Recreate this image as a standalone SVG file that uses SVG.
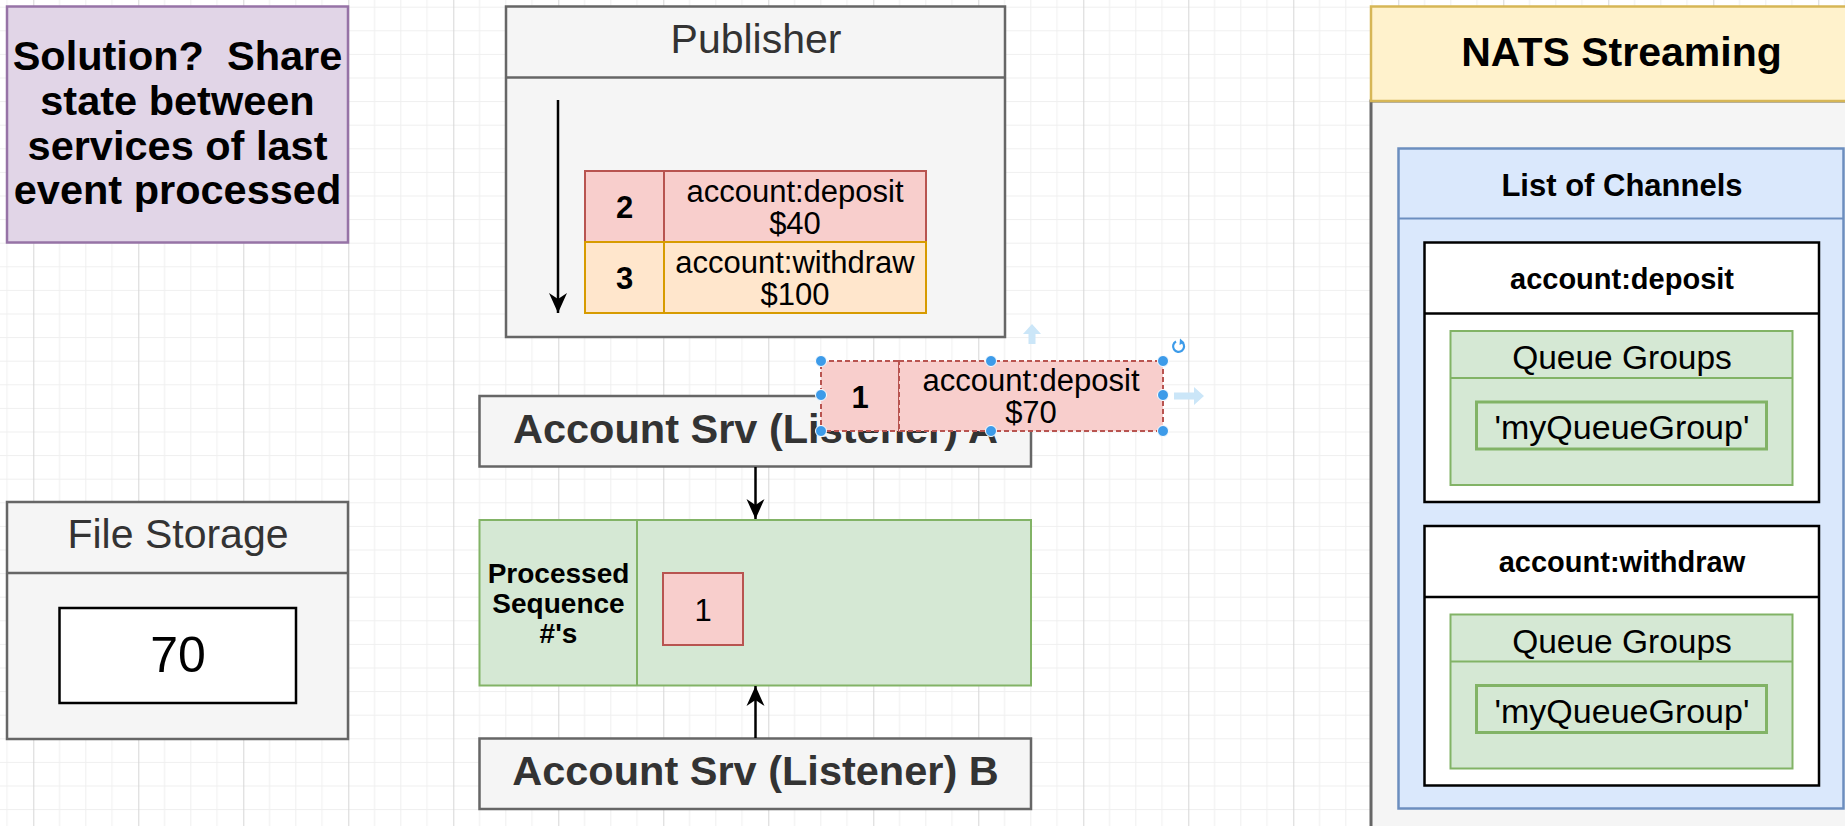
<svg xmlns="http://www.w3.org/2000/svg" width="1845" height="826" viewBox="0 0 1845 826">
<style>
text{font-family:"Liberation Sans",Arial,Helvetica,sans-serif;text-anchor:middle}
.b{font-weight:bold}
.gray{fill:#f5f5f5;stroke:#666666;stroke-width:2.5}
.red{fill:#f8cecc;stroke:#b85450;stroke-width:2}
.orange{fill:#ffe6cc;stroke:#d79b00;stroke-width:2}
.green{fill:#d5e8d4;stroke:#82b366;stroke-width:2}
.conn{stroke:#000;stroke-width:2.5;fill:none}
.handle{fill:#3d9be9;stroke:#ffffff;stroke-width:1}
.hint{fill:#cbe6f8}
</style>
<defs>
<pattern id="grid" patternUnits="userSpaceOnUse" x="33.3" y="6.7" width="105" height="23.6">
<path d="M26.25 0V23.6M52.5 0V23.6M78.75 0V23.6M0 0.5H105" stroke="#efefef" stroke-width="1" fill="none"/>
<path d="M0.5 0V23.6" stroke="#d6d6d6" stroke-width="1" fill="none"/>
</pattern>
<marker id="arrow" markerUnits="userSpaceOnUse" markerWidth="22" markerHeight="22" viewBox="-20 -10 22 20" refX="0" refY="0" orient="auto">
<path d="M-20,-9 L0,0 L-20,9 L-14,0 Z" fill="#000"/>
</marker>
</defs>
<rect width="1845" height="826" fill="#ffffff"/>
<rect width="1845" height="826" fill="url(#grid)"/>

<g id="solution">
<rect x="7" y="6.5" width="341" height="236" fill="#e1d5e7" stroke="#9673a6" stroke-width="2.5"/>
<text class="b" x="177.5" y="70" font-size="41.5">Solution?&#160; Share</text>
<text class="b" x="177.5" y="115" font-size="41.5">state between</text>
<text class="b" x="177.5" y="159.5" font-size="41.5">services of last</text>
<text class="b" x="177.5" y="203.5" font-size="41.5">event processed</text>
</g>

<g id="file-storage">
<rect class="gray" x="7" y="502" width="341" height="237"/>
<line x1="7" y1="573" x2="348" y2="573" stroke="#666666" stroke-width="2.5"/>
<text x="178" y="548" font-size="41" fill="#333333">File Storage</text>
<rect x="59.5" y="608" width="236.5" height="95" fill="#ffffff" stroke="#000000" stroke-width="2.5"/>
<text x="178" y="672" font-size="50">70</text>
</g>

<g id="publisher">
<rect class="gray" x="506" y="6.5" width="499" height="330.5"/>
<line x1="506" y1="77.5" x2="1005" y2="77.5" stroke="#666666" stroke-width="2.5"/>
<text x="756" y="53" font-size="41" fill="#333333">Publisher</text>
</g>

<g id="event-2">
<rect class="red" x="585" y="171" width="79" height="71"/>
<rect class="red" x="664" y="171" width="262" height="71"/>
<text class="b" x="624.5" y="218" font-size="31">2</text>
<text x="795" y="202" font-size="31">account:deposit</text>
<text x="795" y="234" font-size="31">$40</text>
</g>

<g id="event-3">
<rect class="orange" x="585" y="242" width="79" height="71"/>
<rect class="orange" x="664" y="242" width="262" height="71"/>
<text class="b" x="624.5" y="289" font-size="31">3</text>
<text x="795" y="273" font-size="31">account:withdraw</text>
<text x="795" y="305" font-size="31">$100</text>
</g>

<g id="listener-a">
<rect class="gray" x="479.5" y="396" width="551.5" height="70.5"/>
<text class="b" x="755.5" y="443" font-size="41.5" fill="#333333">Account Srv (Listener) A</text>
</g>

<g id="processed">
<rect class="green" x="479.5" y="520" width="551.5" height="165.5"/>
<line x1="637" y1="520" x2="637" y2="685.5" stroke="#82b366" stroke-width="2"/>
<text class="b" x="558.5" y="583" font-size="28">Processed</text>
<text class="b" x="558.5" y="613" font-size="28">Sequence</text>
<text class="b" x="558.5" y="643" font-size="28">#'s</text>
<rect class="red" x="663" y="573" width="80" height="72"/>
<text x="703" y="621" font-size="31">1</text>
</g>

<g id="listener-b">
<rect class="gray" x="479.5" y="738.5" width="551.5" height="70.5"/>
<text class="b" x="755.5" y="785" font-size="41.5" fill="#333333">Account Srv (Listener) B</text>
</g>

<g id="connectors">
<line class="conn" x1="558" y1="100" x2="558" y2="313" marker-end="url(#arrow)"/>
<line class="conn" x1="755.5" y1="467" x2="755.5" y2="519" marker-end="url(#arrow)"/>
<line class="conn" x1="755.5" y1="738" x2="755.5" y2="686" marker-end="url(#arrow)"/>
</g>

<g id="event-1">
<rect x="821" y="361" width="78" height="70" fill="#f8cecc" stroke="#b85450" stroke-width="2" stroke-dasharray="5 3"/>
<rect x="899" y="361" width="264" height="70" fill="#f8cecc" stroke="#b85450" stroke-width="2" stroke-dasharray="5 3"/>
<text class="b" x="860" y="408" font-size="31">1</text>
<text x="1031" y="391" font-size="31">account:deposit</text>
<text x="1031" y="423" font-size="31">$70</text>
<path class="hint" d="M1032 324 L1041 334 L1035.5 334 L1035.5 344 L1028.5 344 L1028.5 334 L1023 334 Z"/>
<path class="hint" d="M1204 396 L1194 405 L1194 399.5 L1174 399.5 L1174 392.5 L1194 392.5 L1194 387 Z"/>
<path d="M1182.5 342.5 A5.5 5.5 0 1 1 1176 341.5" fill="none" stroke="#3d9be9" stroke-width="2.2"/>
<path d="M1180 338.5 L1184.5 342.5 L1179.5 345 Z" fill="#3d9be9"/>
<circle class="handle" cx="821" cy="361" r="5.5"/>
<circle class="handle" cx="991" cy="361" r="5.5"/>
<circle class="handle" cx="1163" cy="361" r="5.5"/>
<circle class="handle" cx="821" cy="395" r="5.5"/>
<circle class="handle" cx="1163" cy="395" r="5.5"/>
<circle class="handle" cx="821" cy="431" r="5.5"/>
<circle class="handle" cx="991" cy="431" r="5.5"/>
<circle class="handle" cx="1163" cy="431" r="5.5"/>
</g>

<g id="nats">
<rect x="1371" y="101" width="490" height="740" fill="#f5f5f5" stroke="#666666" stroke-width="3"/>
<rect x="1371" y="6.5" width="490" height="94.5" fill="#fff2cc" stroke="#d6b656" stroke-width="2.5"/>
<text class="b" x="1621.5" y="66" font-size="41">NATS Streaming</text>
</g>

<g id="channels">
<rect x="1398.5" y="148.5" width="445" height="660" fill="#dae8fc" stroke="#6c8ebf" stroke-width="2.5"/>
<line x1="1398.5" y1="218.5" x2="1843.5" y2="218.5" stroke="#6c8ebf" stroke-width="2"/>
<text class="b" x="1622" y="196" font-size="31">List of Channels</text>
</g>

<g id="channel-deposit">
<rect x="1424.5" y="242.5" width="394.5" height="259.5" fill="#ffffff" stroke="#000000" stroke-width="2.5"/>
<line x1="1424.5" y1="313.5" x2="1819" y2="313.5" stroke="#000000" stroke-width="2.5"/>
<text class="b" x="1622" y="289" font-size="29">account:deposit</text>
<rect class="green" x="1450.5" y="331" width="342" height="154"/>
<line x1="1450.5" y1="378" x2="1792.5" y2="378" stroke="#82b366" stroke-width="2"/>
<text x="1622" y="369" font-size="33.5">Queue Groups</text>
<rect x="1476.5" y="402" width="290" height="47" fill="#d5e8d4" stroke="#82b366" stroke-width="3"/>
<text x="1622" y="439" font-size="34">'myQueueGroup'</text>
</g>

<g id="channel-withdraw">
<rect x="1424.5" y="526" width="394.5" height="259.5" fill="#ffffff" stroke="#000000" stroke-width="2.5"/>
<line x1="1424.5" y1="597" x2="1819" y2="597" stroke="#000000" stroke-width="2.5"/>
<text class="b" x="1622" y="572" font-size="29">account:withdraw</text>
<rect class="green" x="1450.5" y="614.5" width="342" height="154"/>
<line x1="1450.5" y1="661.5" x2="1792.5" y2="661.5" stroke="#82b366" stroke-width="2"/>
<text x="1622" y="652.5" font-size="33.5">Queue Groups</text>
<rect x="1476.5" y="685.5" width="290" height="47" fill="#d5e8d4" stroke="#82b366" stroke-width="3"/>
<text x="1622" y="722.5" font-size="34">'myQueueGroup'</text>
</g>
</svg>
